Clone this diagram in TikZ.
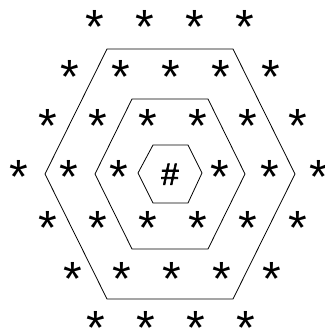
\documentclass[tikz,border=0pt]{standalone}
\usepackage{fontspec}
\setmainfont{Liberation Sans}
\newfontfamily\hashfont[FakeBold=2]{Liberation Sans}
\newcommand\mystar{\makebox[0.33em]{\raisebox{-0.53em}[0.145em][0.145em]{*}}}
\newcommand\myhash{\raisebox{-0.352em}[0.36em][0.36em]{\#}}
\begin{document}
\begin{tikzpicture}[x=1pt,y=-1pt,
  star/.style={inner sep=0pt,outer sep=0pt,font=\fontsize{48}{48}\selectfont},
  hash/.style={inner sep=0pt,outer sep=0pt,font=\hashfont\fontsize{31}{31}\selectfont},
  hexline/.style={draw=black,line width=0.8pt,line join=miter}]
\useasboundingbox (0,0) rectangle (324,328);
\foreach \x [count=\i] in {95,145,195,245} \node[star] (r0c\i) at (\x,18) {\mystar};
\foreach \x [count=\i] in {70,121,171,221,271} \node[star] (r1c\i) at (\x,68) {\mystar};
\foreach \x [count=\i] in {48,98,148,198,248,298} \node[star] (r2c\i) at (\x,117) {\mystar};
\foreach \x [count=\i] in {19,69,119,220,270,319} \node[star] (r3c\i) at (\x,168) {\mystar};
\foreach \x [count=\i] in {48,98,148,198,248,298} \node[star] (r4c\i) at (\x,219) {\mystar};
\foreach \x [count=\i] in {73,122,172,222,272} \node[star] (r5c\i) at (\x,270) {\mystar};
\foreach \x [count=\i] in {96,146,196,246} \node[star] (r6c\i) at (\x,319) {\mystar};
\node[hash] (h) at (170,174) {\myhash};
\draw[hexline] (45,174) -- (107,49) -- (233,49) -- (295,174) -- (233,299) -- (107,299) -- cycle;
\draw[hexline] (95,174) -- (132,99) -- (208,99) -- (245,174) -- (208,249) -- (132,249) -- cycle;
\draw[hexline] (138,173) -- (153,145) -- (188,145) -- (202,173) -- (188,203) -- (153,203) -- cycle;
\end{tikzpicture}
\end{document}
